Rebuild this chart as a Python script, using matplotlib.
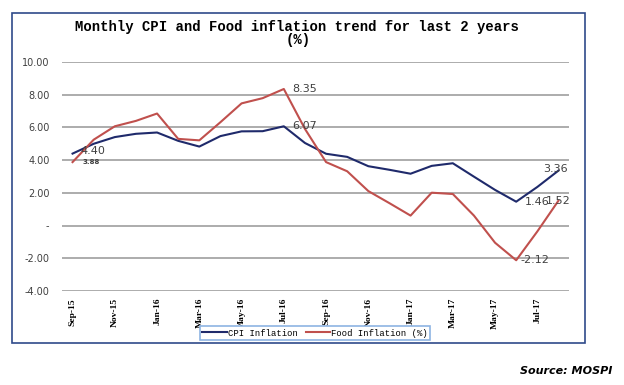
import matplotlib.pyplot as plt
from matplotlib.patches import Rectangle

# Months Sep-15 .. Aug-17
months = ["Sep-15", "Oct-15", "Nov-15", "Dec-15", "Jan-16", "Feb-16", "Mar-16", "Apr-16",
          "May-16", "Jun-16", "Jul-16", "Aug-16", "Sep-16", "Oct-16", "Nov-16", "Dec-16",
          "Jan-17", "Feb-17", "Mar-17", "Apr-17", "May-17", "Jun-17", "Jul-17", "Aug-17"]
cpi = [4.40, 5.00, 5.41, 5.61, 5.69, 5.18, 4.83, 5.47, 5.76, 5.77, 6.07, 5.05,
       4.39, 4.20, 3.63, 3.41, 3.17, 3.65, 3.81, 2.99, 2.18, 1.46, 2.36, 3.36]
food = [3.88, 5.25, 6.07, 6.40, 6.85, 5.30, 5.21, 6.32, 7.47, 7.79, 8.35, 5.91,
        3.88, 3.32, 2.11, 1.37, 0.61, 2.01, 1.93, 0.61, -1.05, -2.12, -0.36, 1.52]
yticks = [-4, -2, 0, 2, 4, 6, 8, 10]

cpi_color = "#1F2A6B"
food_color = "#C0504D"

fig = plt.figure(figsize=(6.24, 3.85), dpi=100)
ax = fig.add_axes([62 / 624, 1 - 291 / 385, 507 / 624, 229 / 385])

x = list(range(len(months)))
ax.plot(x, cpi, color=cpi_color, lw=1.5, label="CPI Inflation")
ax.plot(x, food, color=food_color, lw=1.5, label="Food Inflation (%)")

ax.set_xlim(-0.5, len(months) - 0.5)
ax.set_ylim(-4, 10)
ax.set_yticks(yticks)
ax.set_yticklabels(["-" if v == 0 else f"{v:.2f}" for v in yticks],
                   fontsize=7, color="#404040", family="DejaVu Sans")
ax.set_xticks(x[::2])
ax.set_xticklabels(months[::2], rotation=90, fontsize=6.8, fontweight="bold",
                   family="Liberation Serif", va="top")
ax.tick_params(length=0, pad=5)
ax.tick_params(axis="y", pad=9)
ax.grid(axis="y", color="#A6A6A6", lw=1.3)
ax.set_axisbelow(True)
for s in ax.spines.values():
    s.set_visible(False)

# data labels
lab = dict(fontsize=8, color="#404040", textcoords="offset points")
ax.annotate("4.40", (0, cpi[0]), xytext=(6, 2), va="center", **lab)
ax.annotate("3.88", (0, food[0]), xytext=(7, 0), va="center", fontsize=5,
            fontweight="bold", color="#404040", textcoords="offset points")
ax.annotate("8.35", (10, food[10]), xytext=(6, 0), va="center", **lab)
ax.annotate("6.07", (10, cpi[10]), xytext=(6, 0), va="center", **lab)
ax.annotate("1.46", (21, cpi[21]), xytext=(6, 0), va="center", **lab)
ax.annotate("-2.12", (21, food[21]), xytext=(3, 0), va="center", **lab)
ax.annotate("3.36", (23, cpi[23]), xytext=(-2, 1), va="center", ha="center", **lab)
ax.annotate("1.52", (23, food[23]), xytext=(0, 0), va="center", ha="center", **lab)

fig.text(297 / 624, 1 - 27 / 385, "Monthly CPI and Food inflation trend for last 2 years",
         ha="center", va="center", family="Liberation Mono", fontweight="bold", fontsize=10)
fig.text(298 / 624, 1 - 40 / 385, "(%)", ha="center", va="center",
         family="Liberation Mono", fontweight="bold", fontsize=10)

leg = fig.legend(loc="center", bbox_to_anchor=(315 / 624, 1 - 333 / 385), ncol=2,
                 prop={"family": "Liberation Mono", "size": 6.4},
                 handlelength=2.8, handletextpad=0.1, columnspacing=0.9,
                 borderpad=0.25, fancybox=False, framealpha=1)
leg.get_frame().set_edgecolor("#8EB4E3")
leg.get_frame().set_linewidth(1.2)

fig.patches.append(Rectangle((12 / 624, 1 - 343 / 385), 573 / 624, 330 / 385,
                             transform=fig.transFigure, fill=False,
                             edgecolor="#2F4A8A", lw=1.2))

fig.text(612 / 624, 1 - 371 / 385, "Source: MOSPI", ha="right", va="center",
         fontsize=8, fontweight="bold", fontstyle="italic", family="DejaVu Sans")

plt.savefig("out.png", dpi=100)
